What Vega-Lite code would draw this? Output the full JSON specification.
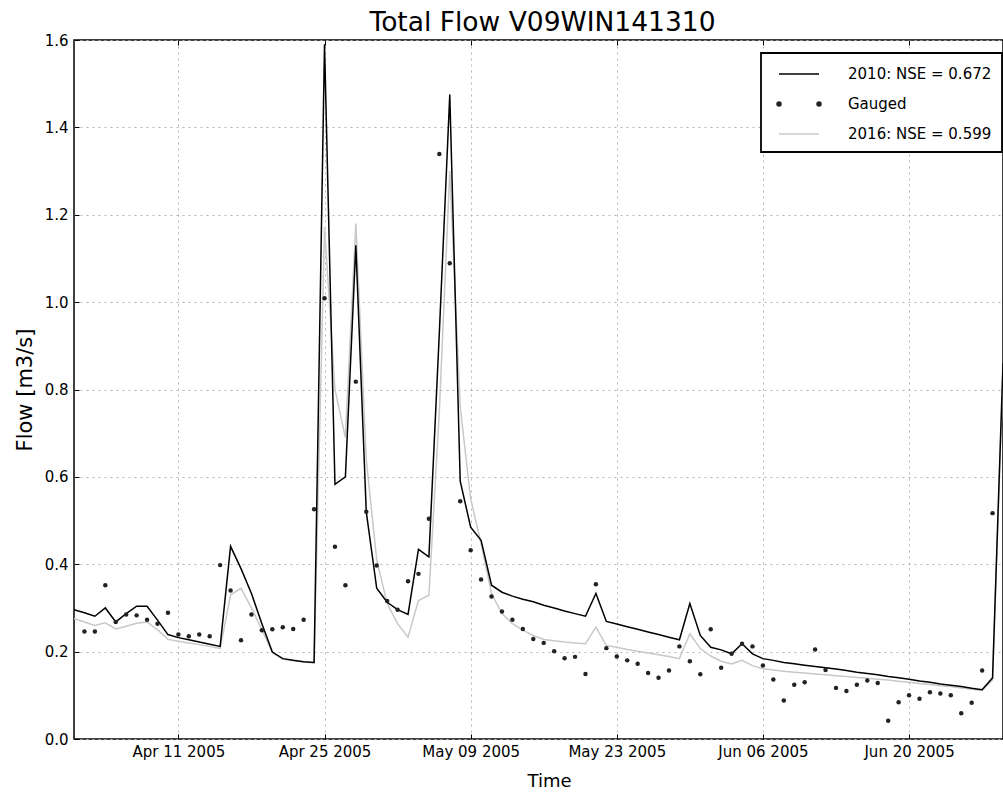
{
  "$schema": "https://vega.github.io/schema/vega-lite/v6.json",
  "autosize": {"type": "none"},
  "width": 929,
  "height": 699,
  "padding": {"left": 74, "top": 40, "right": 0, "bottom": 57},
  "background": "white",
  "title": {"text": "Total Flow V09WIN141310", "fontSize": 26.5, "font": "DejaVu Sans", "fontWeight": "normal", "color": "#000000", "offset": 0, "dx": 4, "dy": 3},
  "config": {
    "view": {"stroke": "#000000", "strokeWidth": 1.5},
    "font": "DejaVu Sans",
    "axis": {"labelFont": "DejaVu Sans", "titleFont": "DejaVu Sans", "labelColor": "#000000", "titleColor": "#000000", "tickColor": "#000000", "domain": false, "gridColor": "#b4b4b4", "gridDash": [2, 4], "gridWidth": 1, "titleFontWeight": "normal"}
  },
  "datasets": {
    "m2016": [
      {"date": "2005-04-01", "flow": 0.276}, {"date": "2005-04-02", "flow": 0.268}, {"date": "2005-04-03", "flow": 0.260}, {"date": "2005-04-04", "flow": 0.266}, {"date": "2005-04-05", "flow": 0.252},
      {"date": "2005-04-06", "flow": 0.258}, {"date": "2005-04-07", "flow": 0.265}, {"date": "2005-04-08", "flow": 0.268}, {"date": "2005-04-09", "flow": 0.250}, {"date": "2005-04-10", "flow": 0.228},
      {"date": "2005-04-11", "flow": 0.224}, {"date": "2005-04-12", "flow": 0.220}, {"date": "2005-04-13", "flow": 0.216}, {"date": "2005-04-14", "flow": 0.212}, {"date": "2005-04-15", "flow": 0.207},
      {"date": "2005-04-16", "flow": 0.330}, {"date": "2005-04-17", "flow": 0.345}, {"date": "2005-04-18", "flow": 0.300}, {"date": "2005-04-19", "flow": 0.250}, {"date": "2005-04-20", "flow": 0.198},
      {"date": "2005-04-21", "flow": 0.183}, {"date": "2005-04-22", "flow": 0.179}, {"date": "2005-04-23", "flow": 0.176}, {"date": "2005-04-24", "flow": 0.174}, {"date": "2005-04-25", "flow": 1.170},
      {"date": "2005-04-26", "flow": 0.800}, {"date": "2005-04-27", "flow": 0.690}, {"date": "2005-04-28", "flow": 1.180}, {"date": "2005-04-29", "flow": 0.640}, {"date": "2005-04-30", "flow": 0.410},
      {"date": "2005-05-01", "flow": 0.310}, {"date": "2005-05-02", "flow": 0.264}, {"date": "2005-05-03", "flow": 0.233}, {"date": "2005-05-04", "flow": 0.317}, {"date": "2005-05-05", "flow": 0.329},
      {"date": "2005-05-06", "flow": 0.750}, {"date": "2005-05-07", "flow": 1.300}, {"date": "2005-05-08", "flow": 0.760}, {"date": "2005-05-09", "flow": 0.550}, {"date": "2005-05-10", "flow": 0.447},
      {"date": "2005-05-11", "flow": 0.333}, {"date": "2005-05-12", "flow": 0.287}, {"date": "2005-05-13", "flow": 0.264}, {"date": "2005-05-14", "flow": 0.249}, {"date": "2005-05-15", "flow": 0.237},
      {"date": "2005-05-16", "flow": 0.228}, {"date": "2005-05-17", "flow": 0.225}, {"date": "2005-05-18", "flow": 0.222}, {"date": "2005-05-19", "flow": 0.220}, {"date": "2005-05-20", "flow": 0.218},
      {"date": "2005-05-21", "flow": 0.256}, {"date": "2005-05-22", "flow": 0.214}, {"date": "2005-05-23", "flow": 0.210}, {"date": "2005-05-24", "flow": 0.205}, {"date": "2005-05-25", "flow": 0.201},
      {"date": "2005-05-26", "flow": 0.197}, {"date": "2005-05-27", "flow": 0.193}, {"date": "2005-05-28", "flow": 0.189}, {"date": "2005-05-29", "flow": 0.184}, {"date": "2005-05-30", "flow": 0.241},
      {"date": "2005-05-31", "flow": 0.207}, {"date": "2005-06-01", "flow": 0.190}, {"date": "2005-06-02", "flow": 0.178}, {"date": "2005-06-03", "flow": 0.172}, {"date": "2005-06-04", "flow": 0.180},
      {"date": "2005-06-05", "flow": 0.168}, {"date": "2005-06-06", "flow": 0.161}, {"date": "2005-06-07", "flow": 0.158}, {"date": "2005-06-08", "flow": 0.155}, {"date": "2005-06-09", "flow": 0.153},
      {"date": "2005-06-10", "flow": 0.151}, {"date": "2005-06-11", "flow": 0.149}, {"date": "2005-06-12", "flow": 0.147}, {"date": "2005-06-13", "flow": 0.145}, {"date": "2005-06-14", "flow": 0.143},
      {"date": "2005-06-15", "flow": 0.141}, {"date": "2005-06-16", "flow": 0.139}, {"date": "2005-06-17", "flow": 0.137}, {"date": "2005-06-18", "flow": 0.135}, {"date": "2005-06-19", "flow": 0.132},
      {"date": "2005-06-20", "flow": 0.130}, {"date": "2005-06-21", "flow": 0.127}, {"date": "2005-06-22", "flow": 0.125}, {"date": "2005-06-23", "flow": 0.122}, {"date": "2005-06-24", "flow": 0.120},
      {"date": "2005-06-25", "flow": 0.117}, {"date": "2005-06-26", "flow": 0.114}, {"date": "2005-06-27", "flow": 0.111}, {"date": "2005-06-28", "flow": 0.135}, {"date": "2005-06-29", "flow": 0.840}
    ],
    "m2010": [
      {"date": "2005-04-01", "flow": 0.296}, {"date": "2005-04-02", "flow": 0.289}, {"date": "2005-04-03", "flow": 0.281}, {"date": "2005-04-04", "flow": 0.300}, {"date": "2005-04-05", "flow": 0.268},
      {"date": "2005-04-06", "flow": 0.287}, {"date": "2005-04-07", "flow": 0.304}, {"date": "2005-04-08", "flow": 0.304}, {"date": "2005-04-09", "flow": 0.272}, {"date": "2005-04-10", "flow": 0.239},
      {"date": "2005-04-11", "flow": 0.232}, {"date": "2005-04-12", "flow": 0.227}, {"date": "2005-04-13", "flow": 0.222}, {"date": "2005-04-14", "flow": 0.217}, {"date": "2005-04-15", "flow": 0.212},
      {"date": "2005-04-16", "flow": 0.441}, {"date": "2005-04-17", "flow": 0.390}, {"date": "2005-04-18", "flow": 0.333}, {"date": "2005-04-19", "flow": 0.264}, {"date": "2005-04-20", "flow": 0.199},
      {"date": "2005-04-21", "flow": 0.184}, {"date": "2005-04-22", "flow": 0.180}, {"date": "2005-04-23", "flow": 0.177}, {"date": "2005-04-24", "flow": 0.175}, {"date": "2005-04-25", "flow": 1.590},
      {"date": "2005-04-26", "flow": 0.583}, {"date": "2005-04-27", "flow": 0.600}, {"date": "2005-04-28", "flow": 1.130}, {"date": "2005-04-29", "flow": 0.520}, {"date": "2005-04-30", "flow": 0.345},
      {"date": "2005-05-01", "flow": 0.313}, {"date": "2005-05-02", "flow": 0.296}, {"date": "2005-05-03", "flow": 0.285}, {"date": "2005-05-04", "flow": 0.434}, {"date": "2005-05-05", "flow": 0.417},
      {"date": "2005-05-06", "flow": 0.930}, {"date": "2005-05-07", "flow": 1.475}, {"date": "2005-05-08", "flow": 0.590}, {"date": "2005-05-09", "flow": 0.485}, {"date": "2005-05-10", "flow": 0.455},
      {"date": "2005-05-11", "flow": 0.352}, {"date": "2005-05-12", "flow": 0.336}, {"date": "2005-05-13", "flow": 0.327}, {"date": "2005-05-14", "flow": 0.320}, {"date": "2005-05-15", "flow": 0.314},
      {"date": "2005-05-16", "flow": 0.306}, {"date": "2005-05-17", "flow": 0.300}, {"date": "2005-05-18", "flow": 0.293}, {"date": "2005-05-19", "flow": 0.287}, {"date": "2005-05-20", "flow": 0.281},
      {"date": "2005-05-21", "flow": 0.333}, {"date": "2005-05-22", "flow": 0.269}, {"date": "2005-05-23", "flow": 0.263}, {"date": "2005-05-24", "flow": 0.257}, {"date": "2005-05-25", "flow": 0.251},
      {"date": "2005-05-26", "flow": 0.245}, {"date": "2005-05-27", "flow": 0.239}, {"date": "2005-05-28", "flow": 0.233}, {"date": "2005-05-29", "flow": 0.227}, {"date": "2005-05-30", "flow": 0.310},
      {"date": "2005-05-31", "flow": 0.237}, {"date": "2005-06-01", "flow": 0.210}, {"date": "2005-06-02", "flow": 0.204}, {"date": "2005-06-03", "flow": 0.195}, {"date": "2005-06-04", "flow": 0.218},
      {"date": "2005-06-05", "flow": 0.195}, {"date": "2005-06-06", "flow": 0.184}, {"date": "2005-06-07", "flow": 0.180}, {"date": "2005-06-08", "flow": 0.175}, {"date": "2005-06-09", "flow": 0.172},
      {"date": "2005-06-10", "flow": 0.169}, {"date": "2005-06-11", "flow": 0.166}, {"date": "2005-06-12", "flow": 0.163}, {"date": "2005-06-13", "flow": 0.160}, {"date": "2005-06-14", "flow": 0.157},
      {"date": "2005-06-15", "flow": 0.153}, {"date": "2005-06-16", "flow": 0.150}, {"date": "2005-06-17", "flow": 0.147}, {"date": "2005-06-18", "flow": 0.143}, {"date": "2005-06-19", "flow": 0.140},
      {"date": "2005-06-20", "flow": 0.137}, {"date": "2005-06-21", "flow": 0.133}, {"date": "2005-06-22", "flow": 0.130}, {"date": "2005-06-23", "flow": 0.126}, {"date": "2005-06-24", "flow": 0.123},
      {"date": "2005-06-25", "flow": 0.120}, {"date": "2005-06-26", "flow": 0.116}, {"date": "2005-06-27", "flow": 0.113}, {"date": "2005-06-28", "flow": 0.140}, {"date": "2005-06-29", "flow": 0.860}
    ],
    "gauged": [
      {"date": "2005-04-02", "flow": 0.246}, {"date": "2005-04-03", "flow": 0.246}, {"date": "2005-04-04", "flow": 0.352}, {"date": "2005-04-05", "flow": 0.268},
      {"date": "2005-04-06", "flow": 0.285}, {"date": "2005-04-07", "flow": 0.283}, {"date": "2005-04-08", "flow": 0.273}, {"date": "2005-04-09", "flow": 0.264}, {"date": "2005-04-10", "flow": 0.289},
      {"date": "2005-04-11", "flow": 0.239}, {"date": "2005-04-12", "flow": 0.235}, {"date": "2005-04-13", "flow": 0.239}, {"date": "2005-04-14", "flow": 0.235}, {"date": "2005-04-15", "flow": 0.398},
      {"date": "2005-04-16", "flow": 0.340}, {"date": "2005-04-17", "flow": 0.226}, {"date": "2005-04-18", "flow": 0.285}, {"date": "2005-04-19", "flow": 0.249}, {"date": "2005-04-20", "flow": 0.251},
      {"date": "2005-04-21", "flow": 0.256}, {"date": "2005-04-22", "flow": 0.252}, {"date": "2005-04-23", "flow": 0.273}, {"date": "2005-04-24", "flow": 0.526}, {"date": "2005-04-25", "flow": 1.009},
      {"date": "2005-04-26", "flow": 0.440}, {"date": "2005-04-27", "flow": 0.352}, {"date": "2005-04-28", "flow": 0.818}, {"date": "2005-04-29", "flow": 0.520}, {"date": "2005-04-30", "flow": 0.397},
      {"date": "2005-05-01", "flow": 0.316}, {"date": "2005-05-02", "flow": 0.296}, {"date": "2005-05-03", "flow": 0.361}, {"date": "2005-05-04", "flow": 0.378}, {"date": "2005-05-05", "flow": 0.504},
      {"date": "2005-05-06", "flow": 1.339}, {"date": "2005-05-07", "flow": 1.089}, {"date": "2005-05-08", "flow": 0.544}, {"date": "2005-05-09", "flow": 0.432}, {"date": "2005-05-10", "flow": 0.365},
      {"date": "2005-05-11", "flow": 0.326}, {"date": "2005-05-12", "flow": 0.292}, {"date": "2005-05-13", "flow": 0.273}, {"date": "2005-05-14", "flow": 0.252}, {"date": "2005-05-15", "flow": 0.229},
      {"date": "2005-05-16", "flow": 0.220}, {"date": "2005-05-17", "flow": 0.201}, {"date": "2005-05-18", "flow": 0.185}, {"date": "2005-05-19", "flow": 0.188}, {"date": "2005-05-20", "flow": 0.149},
      {"date": "2005-05-21", "flow": 0.354}, {"date": "2005-05-22", "flow": 0.208}, {"date": "2005-05-23", "flow": 0.189}, {"date": "2005-05-24", "flow": 0.180}, {"date": "2005-05-25", "flow": 0.172},
      {"date": "2005-05-26", "flow": 0.151}, {"date": "2005-05-27", "flow": 0.140}, {"date": "2005-05-28", "flow": 0.157}, {"date": "2005-05-29", "flow": 0.212}, {"date": "2005-05-30", "flow": 0.178},
      {"date": "2005-05-31", "flow": 0.148}, {"date": "2005-06-01", "flow": 0.251}, {"date": "2005-06-02", "flow": 0.163}, {"date": "2005-06-03", "flow": 0.195}, {"date": "2005-06-04", "flow": 0.218},
      {"date": "2005-06-05", "flow": 0.212}, {"date": "2005-06-06", "flow": 0.168}, {"date": "2005-06-07", "flow": 0.136}, {"date": "2005-06-08", "flow": 0.088}, {"date": "2005-06-09", "flow": 0.124},
      {"date": "2005-06-10", "flow": 0.130}, {"date": "2005-06-11", "flow": 0.205}, {"date": "2005-06-12", "flow": 0.158}, {"date": "2005-06-13", "flow": 0.117}, {"date": "2005-06-14", "flow": 0.110},
      {"date": "2005-06-15", "flow": 0.124}, {"date": "2005-06-16", "flow": 0.134}, {"date": "2005-06-17", "flow": 0.128}, {"date": "2005-06-18", "flow": 0.042}, {"date": "2005-06-19", "flow": 0.084},
      {"date": "2005-06-20", "flow": 0.100}, {"date": "2005-06-21", "flow": 0.092}, {"date": "2005-06-22", "flow": 0.107}, {"date": "2005-06-23", "flow": 0.104}, {"date": "2005-06-24", "flow": 0.100},
      {"date": "2005-06-25", "flow": 0.059}, {"date": "2005-06-26", "flow": 0.083}, {"date": "2005-06-27", "flow": 0.157}, {"date": "2005-06-28", "flow": 0.517}
    ]
  },
  "layer": [
    {
      "data": {"name": "m2016"},
      "mark": {"type": "line", "strokeWidth": 1.5, "clip": true},
      "encoding": {
        "x": {
          "field": "date", "type": "temporal",
          "scale": {"type": "utc", "domain": [{"year": 2005, "month": 4, "date": 1, "utc": true}, {"year": 2005, "month": 6, "date": 29, "utc": true}]},
          "axis": {
            "orient": "bottom", "title": "Time", "titleFontSize": 18, "titlePadding": 13, "titleX": 475,
            "values": [{"year": 2005, "month": 4, "date": 11, "utc": true}, {"year": 2005, "month": 4, "date": 25, "utc": true}, {"year": 2005, "month": 5, "date": 9, "utc": true}, {"year": 2005, "month": 5, "date": 23, "utc": true}, {"year": 2005, "month": 6, "date": 6, "utc": true}, {"year": 2005, "month": 6, "date": 20, "utc": true}],
            "format": "%b %d %Y", "labelFontSize": 15, "tickSize": -5, "labelPadding": 10, "grid": true, "labelFlush": false
          }
        },
        "y": {
          "field": "flow", "type": "quantitative",
          "scale": {"domain": [0, 1.6], "nice": false, "zero": true},
          "axis": {
            "orient": "left", "title": "Flow [m3/s]", "titleFontSize": 21, "titlePadding": 9,
            "values": [0, 0.2, 0.4, 0.6, 0.8, 1.0, 1.2, 1.4, 1.6], "format": ".1f",
            "labelFontSize": 15, "tickSize": -5, "labelPadding": 11, "grid": true
          }
        },
        "color": {
          "datum": "2016: NSE = 0.599",
          "scale": {"domain": ["2010: NSE = 0.672", "Gauged", "2016: NSE = 0.599"], "range": ["#000000", "#222222", "#c8c8c8"]},
          "legend": {
            "title": null, "orient": "none", "legendX": 687, "legendY": 13,
            "padding": 10, "fillColor": "#ffffff", "strokeColor": "#000000", "cornerRadius": 0,
            "labelFont": "DejaVu Sans", "labelFontSize": 15, "labelColor": "#000000", "labelLimit": 300,
            "symbolSize": 400, "symbolOffset": 17, "labelOffset": 38, "rowPadding": 11,
            "encode": {
              "legend": {"update": {"strokeWidth": {"value": 1.8}}},
              "symbols": {"update": {
                "shape": {"signal": "datum.value === 'Gauged' ? 'M-2.2,0A0.2,0.2,0,1,1,-1.8,0A0.2,0.2,0,1,1,-2.2,0ZM1.8,0A0.2,0.2,0,1,1,2.2,0A0.2,0.2,0,1,1,1.8,0Z' : 'M-2,0L2,0'"},
                "size": {"value": 400},
                "fill": {"signal": "datum.value === 'Gauged' ? '#222222' : 'transparent'"},
                "stroke": {"signal": "datum.value === 'Gauged' ? 'transparent' : (datum.value === '2010: NSE = 0.672' ? '#000000' : '#c8c8c8')"},
                "strokeWidth": {"value": 1.5},
                "opacity": {"value": 1}
              }}
            }
          }
        }
      }
    },
    {
      "data": {"name": "m2010"},
      "mark": {"type": "line", "strokeWidth": 1.5, "clip": true},
      "encoding": {
        "x": {
          "field": "date", "type": "temporal",
          "axis": {
            "orient": "top", "title": null, "labels": false, "grid": false, "tickSize": -5,
            "values": [{"year": 2005, "month": 4, "date": 11, "utc": true}, {"year": 2005, "month": 4, "date": 25, "utc": true}, {"year": 2005, "month": 5, "date": 9, "utc": true}, {"year": 2005, "month": 5, "date": 23, "utc": true}, {"year": 2005, "month": 6, "date": 6, "utc": true}, {"year": 2005, "month": 6, "date": 20, "utc": true}]
          }
        },
        "y": {"field": "flow", "type": "quantitative", "axis": null},
        "color": {"datum": "2010: NSE = 0.672"}
      }
    },
    {
      "data": {"name": "gauged"},
      "mark": {"type": "point", "filled": true, "size": 20, "opacity": 1, "clip": true},
      "encoding": {
        "x": {"field": "date", "type": "temporal", "axis": null},
        "y": {"field": "flow", "type": "quantitative", "axis": null},
        "color": {"datum": "Gauged"}
      }
    }
  ],
  "resolve": {"axis": {"x": "independent", "y": "independent"}}
}
